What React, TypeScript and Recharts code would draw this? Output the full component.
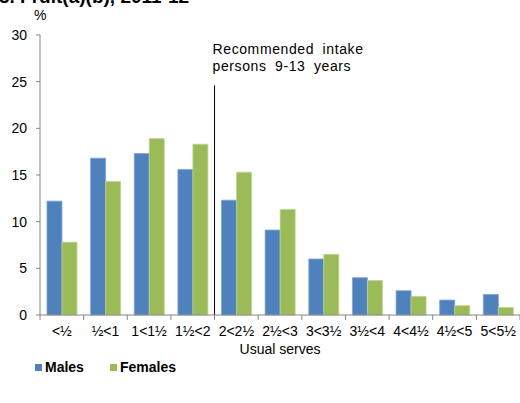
import React from 'react';
import { BarChart, Bar, XAxis, YAxis, ReferenceLine, Legend } from 'recharts';

const CATEGORIES = ['<½', '½<1', '1<1½', '1½<2', '2<2½', '2½<3', '3<3½', '3½<4', '4<4½', '4½<5', '5<5½'];
const MALES = [12.2, 16.8, 17.3, 15.6, 12.3, 9.1, 6.0, 4.0, 2.6, 1.6, 2.2];
const FEMALES = [7.8, 14.3, 18.9, 18.3, 15.3, 11.3, 6.5, 3.7, 2.0, 1.0, 0.8];
const Y_TICKS = [0, 5, 10, 15, 20, 25, 30];
const SERIES_NAMES = ['Males', 'Females'];
const RECOMMENDED_CAT = '2<2½';
const RECOMMENDED_TOP = 24.6;

const data = CATEGORIES.map((c, i) => ({ cat: c, males: MALES[i], females: FEMALES[i] }));

const W = 520;
const H = 403;
const LEFT = 40;
const PLOT_W = W - LEFT;
const STEP = PLOT_W / CATEGORIES.length;
const FONT = '"Liberation Sans", Arial, sans-serif';
const BLUE = '#4F81BD';
const GREEN = '#9BBB59';
const AXIS = '#868686';
const TICK_SIZE = 5;
const TICK_MARGIN = 6;

const XTick = (props: any) => {
  const { x, y, payload, index } = props;
  const y0 = y - TICK_SIZE - TICK_MARGIN;
  return (
    <g>
      <line x1={x - STEP / 2} x2={x - STEP / 2} y1={y0} y2={y0 + TICK_SIZE} stroke={AXIS} />
      {index === CATEGORIES.length - 1 && (
        <line x1={x + STEP / 2} x2={x + STEP / 2} y1={y0} y2={y0 + TICK_SIZE} stroke={AXIS} />
      )}
      <text x={x} y={y} dy="0.71em" textAnchor="middle" fill="#000" fontSize={14} fontFamily={FONT}>
        {payload.value}
      </text>
    </g>
  );
};

const LegendContent = () => (
  <div style={{ display: 'flex', fontFamily: FONT, fontSize: 14, fontWeight: 'bold', color: '#000', height: 20, alignItems: 'center' }}>
    {[BLUE, GREEN].map((c, i) => (
      <div key={i} style={{ display: 'flex', alignItems: 'center', marginRight: i === 0 ? 26 : 0 }}>
        <span style={{ display: 'inline-block', width: 7, height: 7, background: c, marginRight: 3 }} />
        <span>{SERIES_NAMES[i]}</span>
      </div>
    ))}
  </div>
);

const RefLabel = (props: any) => {
  const vb = props.viewBox || {};
  const x = (vb.x ?? 0) - 2;
  return (
    <text x={x} y={54} fontSize={14} fontFamily={FONT} fill="#000" letterSpacing={0.6} wordSpacing={4}>
      <tspan x={x} y={54}>Recommended intake</tspan>
      <tspan x={x} y={71}>persons 9-13 years</tspan>
    </text>
  );
};

export default function App() {
  return (
    <div style={{ position: 'absolute', left: 0, top: 0, width: W, height: H, background: '#fff' }}>
      <BarChart
        width={W}
        height={H}
        data={data}
        margin={{ top: 35, right: 0, left: 0, bottom: 38 }}
        barCategoryGap="16%"
        barGap={0}
      >
        <XAxis
          xAxisId="c"
          dataKey="cat"
          height={30}
          stroke={AXIS}
          tickLine={false}
          tickSize={TICK_SIZE}
          tickMargin={TICK_MARGIN}
          tick={<XTick />}
          interval={0}
          label={{ value: 'Usual serves', position: 'bottom', offset: -1, fill: '#000', fontSize: 14, fontFamily: FONT }}
        />
        <YAxis
          width={LEFT}
          domain={[0, 30]}
          ticks={Y_TICKS}
          stroke={AXIS}
          tickSize={4}
          tickMargin={9}
          tick={{ fill: '#000', fontSize: 14, fontFamily: FONT }}
          interval={0}
        />
        <Bar xAxisId="c" dataKey="males" name="Males" fill={BLUE} stroke="#7FA3D3" strokeWidth={0.8} isAnimationActive={false} />
        <Bar xAxisId="c" dataKey="females" name="Females" fill={GREEN} stroke="#BDD48E" strokeWidth={0.8} isAnimationActive={false} />
        <ReferenceLine
          xAxisId="c"
          position="start"
          segment={[{ x: RECOMMENDED_CAT, y: 0 }, { x: RECOMMENDED_CAT, y: RECOMMENDED_TOP }]}
          stroke="#000"
          strokeWidth={1}
          label={<RefLabel />}
        />
        <Legend
          content={<LegendContent />}
          height={20}
          wrapperStyle={{ position: 'absolute', left: 35, top: 357, width: 200, height: 20 }}
        />
      </BarChart>
      <svg style={{ position: 'absolute', left: 0, top: 0, pointerEvents: 'none' }} width={W} height={40}>
        <text x={-1} y={3} fontSize={19} fontWeight="bold" fontFamily={FONT} fill="#000">3. Fruit(a)(b), 2011-12</text>
        <text x={34} y={20} fontSize={14} fontFamily={FONT} fill="#000">%</text>
      </svg>
    </div>
  );
}
